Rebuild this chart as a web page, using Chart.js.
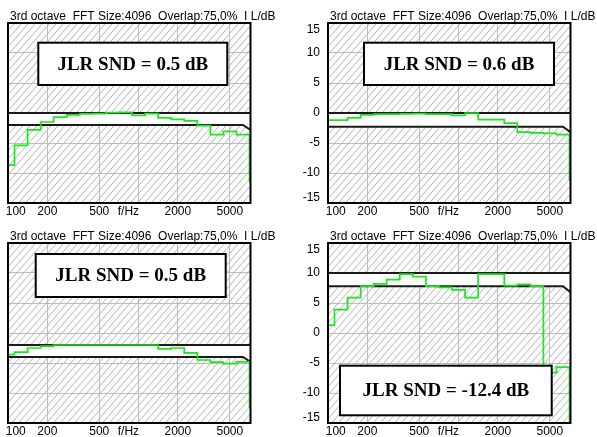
<!DOCTYPE html>
<html><head><meta charset="utf-8">
<script src="https://cdn.jsdelivr.net/npm/chart.js@4.4.1/dist/chart.umd.min.js"></script>
<style>
html,body{margin:0;padding:0;background:#fff;overflow:hidden;width:597px;height:437px;position:relative;}
.p{position:absolute;width:320px;height:220px;}
canvas{display:block;}
</style></head><body>
<div class="p" style="left:0;top:0"><canvas id="c1" width="320" height="220"></canvas></div>
<div class="p" style="left:320px;top:0"><canvas id="c2" width="320" height="220"></canvas></div>
<div class="p" style="left:0;top:220px"><canvas id="c3" width="320" height="220"></canvas></div>
<div class="p" style="left:320px;top:220px"><canvas id="c4" width="320" height="220"></canvas></div>
<script>
// 1/3-octave band centres (Hz); last value is the 8000 Hz band (drop at the right edge)
const bandCenters = [100,125,160,200,250,315,400,500,630,800,1000,1250,1600,2000,2500,3150,4000,5000,6300,8000];
// band levels, dB
const levels1 = [-8.7,-5.4,-2.8,-1.5,-0.7,-0.3,-0.15,-0.1,0.05,0.1,-0.4,-0.1,-0.8,-1.05,-1.3,-2.1,-3.6,-3.05,-3.6,-11.5];
const levels2 = [-1.2,-1.2,-0.8,-0.3,-0.2,-0.2,-0.15,-0.1,-0.2,-0.2,-0.4,0,-1.1,-1.1,-1.7,-3.2,-3.3,-3.4,-3.6,-11.2];
const levels3 = [-3.6,-3.2,-2.5,-2.2,-2.0,-2.0,-2.0,-2.0,-2.0,-2.0,-2.0,-2.0,-2.65,-2.5,-3.3,-4.5,-4.85,-5.1,-4.8,-12.5];
const levels4 = [6.3,8.9,10.9,12.8,13.2,13.9,14.8,14.4,12.8,12.6,12.2,10.9,14.8,14.8,12.9,13.1,12.8,-1.6,-0.7,-12];
// tolerance band limits, dB
const limitUpper = [0, 0, -2, 15];
const limitLower = [-2, -2.3, -4, 12.8];
const limitLowerEnd = [-2.8, -3.2, -4.8, 11.8];
const limitKneeHz = 6300;
// JLR SND results
const sndText = ['JLR SND = 0.5 dB','JLR SND = 0.6 dB','JLR SND = 0.5 dB','JLR SND = -12.4 dB'];
// axes
const yMins = [-15,-15,-15,-10];
const yMaxs = [15,15,15,20];
const yTickStep = 5;
const xGridHz = [200,500,1000,2000,5000];
const xTickText = ['100','200','500','f/Hz','','2000','5000'];
const xTickHz = [114.6,200,500,836,1000,2000,5000];
const headerText = '3rd octave  FFT Size:4096  Overlap:75,0%  I L/dB';

const X_MIN = 100, X_MAX = 7200;
const FONT = '"Liberation Sans", Arial, sans-serif';
Chart.defaults.font.family = FONT;
Chart.defaults.font.size = 12;
Chart.defaults.color = '#000';

function bandLowEdge(c){ const n = Math.round(10*Math.log10(c)); return Math.pow(10,(n-0.5)/10); }

function makeHatch(){
  const w=7,h=8;
  const c=document.createElement('canvas'); c.width=w; c.height=h;
  const g=c.getContext('2d');
  g.strokeStyle='#b4b4b4'; g.lineWidth=1;
  for (let k=-1;k<=1;k++){
    g.beginPath(); g.moveTo(k*w - 1, h + h/w); g.lineTo(k*w + w + 1, -h/w); g.stroke();
  }
  return g.createPattern(c,'repeat');
}

const boxes = [
  {x:38.3,y:42.7,w:189,h:42.3},
  {x:44,y:42.7,w:190,h:42.3},
  {x:35.7,y:34,w:190,h:43},
  {x:20,y:145.7,w:211.7,h:49.6}
];

const decor = {
  id:'decor',
  afterDatasetsDraw(chart){
    const {ctx, chartArea:a} = chart;
    ctx.save();
    ctx.strokeStyle='#000'; ctx.lineWidth=2;
    ctx.strokeRect(a.left, a.top, a.right-a.left, a.bottom-a.top);
    ctx.restore();
  },
  afterDraw(chart){
    const o = chart.options.plugins.decor;
    const ctx = chart.ctx;
    ctx.save();
    ctx.font = '12px ' + FONT;
    ctx.fillStyle = '#000';
    ctx.textBaseline = 'alphabetic';
    ctx.textAlign = 'left';
    ctx.fillText(headerText, 10, 19.5);
    const b = o.box;
    ctx.fillStyle = '#fff';
    ctx.fillRect(b.x, b.y, b.w, b.h);
    ctx.strokeStyle = '#000'; ctx.lineWidth = 2;
    ctx.strokeRect(b.x, b.y, b.w, b.h);
    ctx.fillStyle = '#000';
    ctx.font = 'bold 19px "Liberation Serif", "Times New Roman", serif';
    ctx.textAlign = 'center'; ctx.textBaseline = 'middle';
    ctx.fillText(o.text, b.x + b.w/2, b.y + b.h/2 + 1);
    ctx.restore();
  }
};

// y ticks every 5 dB; the end labels sit slightly inside the frame
function yTicksFor(scale){
  const out = [];
  for (let v = scale.max; v >= scale.min; v -= yTickStep){
    out.push({value: v === scale.max ? v - 1.1 : (v === scale.min ? v + 0.9 : v)});
  }
  return out;
}

function makeChart(i){
  const levels = [levels1,levels2,levels3,levels4][i];
  const hatch = makeHatch();
  const pts = bandCenters.map((c,k)=>({x: bandLowEdge(c), y: levels[k]}));
  new Chart(document.getElementById('c'+(i+1)), {
    type:'line',
    data:{datasets:[
      {data:pts, borderColor:'#1be61b', borderWidth:1.7, stepped:true, pointRadius:0, fill:false, order:0},
      {data:[{x:X_MIN,y:limitUpper[i]},{x:X_MAX,y:limitUpper[i]}], borderColor:'#1a1a1a', borderWidth:2, pointRadius:0, fill:'end', backgroundColor:hatch, order:1},
      {data:[{x:X_MIN,y:limitLower[i]},{x:limitKneeHz,y:limitLower[i]},{x:X_MAX,y:limitLowerEnd[i]}], borderColor:'#1a1a1a', borderWidth:2, pointRadius:0, fill:'start', backgroundColor:hatch, order:2},
      {data:[{x:X_MIN,y:limitUpper[i]},{x:X_MAX,y:limitUpper[i]}], borderWidth:0, borderColor:'rgba(0,0,0,0)', pointRadius:0, fill:2, backgroundColor:'#fff', order:3}
    ]},
    options:{
      responsive:false, animation:false, devicePixelRatio:1,
      layout:{padding:{left:8, top:23, right:0, bottom:0}},
      plugins:{legend:{display:false}, tooltip:{enabled:false}, decor:{box:boxes[i], text:sndText[i]}},
      scales:{
        x:{type:'logarithmic', min:X_MIN, max:X_MAX, position:'bottom',
          afterFit:s=>{s.height=17;},
          afterBuildTicks:s=>{s.ticks = xTickHz.map(v=>({value:v}));},
          ticks:{callback:(v)=>xTickText[xTickHz.indexOf(v)], autoSkip:false, maxRotation:0, minRotation:0, padding:1, font:{size:12}},
          grid:{drawTicks:false, lineWidth:1, color:ctx=> (ctx.tick && xGridHz.includes(ctx.tick.value)) ? '#bdbdbd' : 'rgba(0,0,0,0)'},
          border:{display:false}},
        y:{type:'linear', position:'right', min:yMins[i], max:yMaxs[i],
          afterFit:s=>{s.width=69.5;},
          afterBuildTicks:s=>{s.ticks = yTicksFor(s);},
          ticks:{callback:(v)=>String(Math.round(v/yTickStep)*yTickStep), crossAlign:'far', padding:9, autoSkip:false, font:{size:12}},
          grid:{drawTicks:false, lineWidth:1, color:ctx=> (ctx.tick && Number.isInteger(ctx.tick.value) && ctx.tick.value>ctx.scale.min && ctx.tick.value<ctx.scale.max) ? '#bdbdbd' : 'rgba(0,0,0,0)'},
          border:{display:false}}
      }
    },
    plugins:[decor]
  });
}
for (let i=0;i<4;i++) makeChart(i);
</script>
</body></html>
